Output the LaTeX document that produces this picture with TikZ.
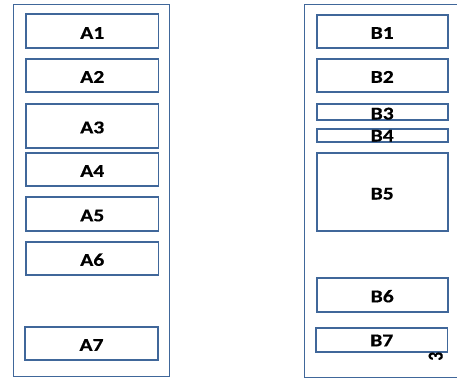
\documentclass[tikz,border=0pt]{standalone}
\usepackage{fontspec}
\setmainfont{Carlito}
\newfontfamily\heavy{Carlito Bold}[FakeBold=0.4]
% labels are set a little wider than the font's natural width
\newcommand\widelbl[1]{\scalebox{1.2}[1]{#1}}
\begin{document}
\begin{tikzpicture}[x=1pt,y=-1pt,
  frame/.style={draw=edge, line width=1.3pt},
  slot/.style={draw=edge, line width=1.9pt, fill=white, inner sep=0pt, outer sep=0pt},
  lbl/.style={font=\fontsize{18}{18}\heavy, inner sep=0pt, anchor=base}]
\definecolor{edge}{HTML}{40679A}
\useasboundingbox (0,0) rectangle (457,378);
\clip (0,0) rectangle (457,378);

% outer columns
\node[frame, anchor=north west, minimum width=156pt, minimum height=372pt, inner sep=0pt] (colA) at (13,4) {};
\node[frame, anchor=north west, minimum width=170pt, minimum height=373pt, inner sep=0pt] (colB) at (304,4) {};

% column A
\node[slot, minimum width=132.5pt, minimum height=34pt] (a1) at (92.25,31) {};
\node[lbl] (a1t) at (92.25,38.8) {\widelbl{A1}};
\node[slot, minimum width=132.5pt, minimum height=33pt] (a2) at (92.25,75.5) {};
\node[lbl] (a2t) at (92.25,82.8) {\widelbl{A2}};
\node[slot, minimum width=132.5pt, minimum height=44pt] (a3) at (92.25,126) {};
\node[lbl] (a3t) at (92.25,133.3) {\widelbl{A3}};
\node[slot, minimum width=132.5pt, minimum height=33pt] (a4) at (92.25,169.5) {};
\node[lbl] (a4t) at (92.25,176.8) {\widelbl{A4}};
\node[slot, minimum width=132.5pt, minimum height=34pt] (a5) at (92.25,214) {};
\node[lbl] (a5t) at (92.25,221.3) {\widelbl{A5}};
\node[slot, minimum width=132.5pt, minimum height=33pt] (a6) at (92.25,258.5) {};
\node[lbl] (a6t) at (92.25,265.8) {\widelbl{A6}};
\node[slot, minimum width=133pt, minimum height=33pt] (a7) at (91.5,343.5) {};
\node[lbl] (a7t) at (91.5,350.8) {\widelbl{A7}};

% column B
\node[slot, minimum width=131pt, minimum height=33pt] (b1) at (382.2,31.5) {};
\node[lbl] (b1t) at (382.2,38.8) {\widelbl{B1}};
\node[slot, minimum width=131pt, minimum height=33pt] (b2) at (382.2,75.5) {};
\node[lbl] (b2t) at (382.2,82.8) {\widelbl{B2}};
\node[slot, minimum width=131pt, minimum height=16pt] (b3) at (382.2,112) {};
\node[lbl] (b3t) at (382.2,119.5) {\widelbl{B3}};
\node[slot, minimum width=131pt, minimum height=13pt] (b4) at (382.2,135.5) {};
\node[lbl] (b4t) at (382.2,141.5) {\widelbl{B4}};
\node[slot, minimum width=131pt, minimum height=78pt] (b5) at (382.2,192) {};
\node[lbl] (b5t) at (382.2,199.5) {\widelbl{B5}};
\node[slot, minimum width=131pt, minimum height=34pt] (b6) at (382.2,295) {};
\node[lbl] (b6t) at (382.2,302.3) {\widelbl{B6}};
\node[slot, minimum width=131.5pt, minimum height=24pt] (b7) at (381.75,340) {};
\node[lbl] (b7t) at (381.75,346.3) {\widelbl{B7}};

% page number, turned on its side
\node[font=\fontsize{17}{17}\heavy, inner sep=0pt] (pg) at (435.7,356.3) {\scalebox{1.25}[1]{\rotatebox{90}{3}}};
\end{tikzpicture}
\end{document}
